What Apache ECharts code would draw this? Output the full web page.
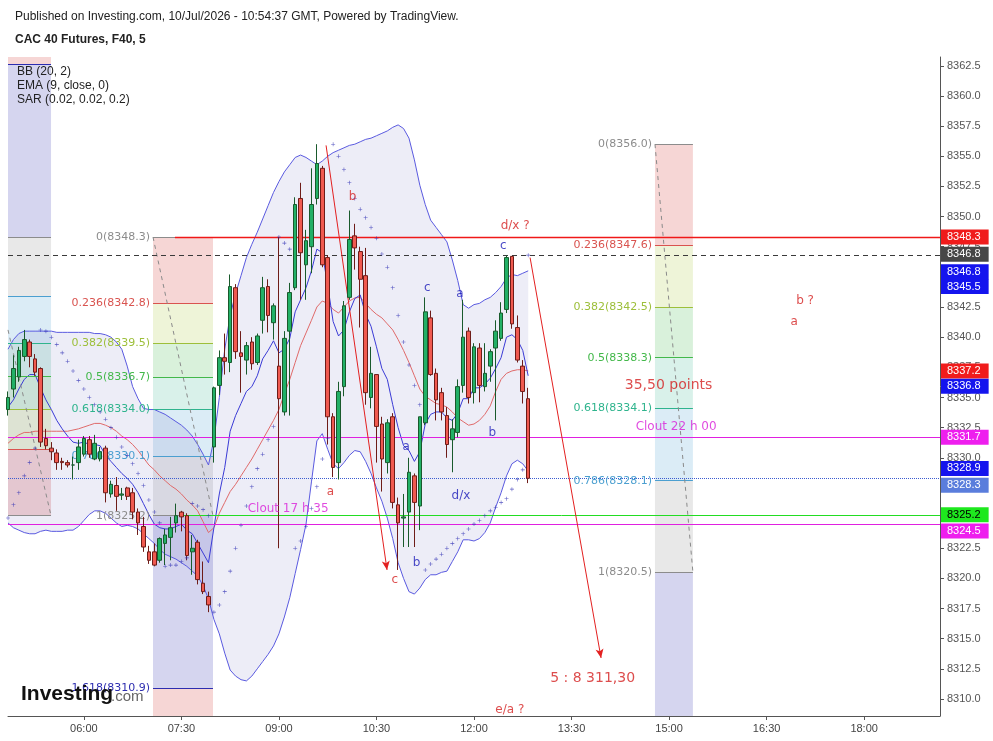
<!DOCTYPE html>
<html><head><meta charset="utf-8">
<script src="https://cdn.jsdelivr.net/npm/echarts@6/dist/echarts.min.js"></script>
<style>html,body{margin:0;padding:0;background:#fff}#c{width:993px;height:741px}</style>
</head><body><div id="c"></div>
<script>
// ---------- data ----------
const slotStart = '04:50';
const slotCount = 173;
const timeTicks = ['06:00','07:30','09:00','10:30','12:00','13:30','15:00','16:30','18:00'];
const priceTicks = [8310,8312.5,8315,8317.5,8320,8322.5,8325,8327.5,8330,8332.5,8335,8337.5,8340,8342.5,8345,8347.5,8350,8352.5,8355,8357.5,8360,8362.5];

const open = [8334.0,8335.7,8336.7,8338.4,8339.6,8338.2,8337.4,8331.6,8330.8,8330.4,
8329.7,8329.6,8329.4,8329.6,8330.3,8331.5,8329.9,8329.9,8330.8,8327.0,
8327.7,8326.9,8327.5,8327.1,8325.5,8324.3,8322.2,8322.2,8321.5,8322.9,
8323.4,8324.6,8325.5,8325.2,8322.2,8323.0,8319.6,8318.5,8330.9,8336.0,
8338.3,8337.9,8344.1,8338.7,8338.1,8339.6,8337.9,8341.4,8344.2,8341.2,
8337.6,8333.8,8340.5,8344.1,8351.5,8346.0,8347.5,8351.5,8354.0,8346.6,
8333.4,8329.6,8335.9,8343.3,8348.4,8347.1,8345.1,8335.0,8336.9,8332.8,
8329.6,8333.4,8326.1,8325.0,8325.5,8328.5,8326.0,8332.9,8341.6,8337.0,
8335.4,8333.5,8331.5,8332.1,8336.0,8340.5,8335.4,8339.1,8335.9,8337.6,
8339.1,8339.9,8342.3,8346.7,8340.8,8337.6,8334.9];
const high = [8335.5,8338.5,8339.2,8340.6,8339.8,8338.6,8337.5,8332.4,8331.3,8330.7,
8330.0,8329.8,8330.1,8331.5,8331.8,8331.8,8331.9,8330.9,8331.0,8328.1,
8328.4,8327.5,8327.6,8327.5,8325.8,8325.1,8322.7,8322.9,8323.4,8324.1,
8325.1,8326.2,8325.6,8325.4,8323.6,8323.2,8321.4,8318.9,8335.9,8338.9,
8340.3,8345.2,8344.4,8340.5,8339.6,8340.0,8340.3,8345.0,8344.8,8342.8,
8348.3,8340.5,8344.5,8351.6,8352.8,8348.9,8354.0,8356.0,8354.2,8346.8,
8333.7,8336.3,8343.0,8350.5,8349.4,8347.5,8347.4,8339.2,8336.9,8333.4,
8333.2,8333.7,8326.7,8327.0,8330.0,8328.7,8333.4,8343.3,8342.2,8337.4,
8335.8,8334.2,8333.2,8336.5,8343.1,8340.8,8339.5,8339.5,8339.5,8339.0,
8341.4,8342.9,8346.8,8346.7,8341.8,8338.1,8335.8];
const low = [8333.5,8335.0,8336.3,8338.0,8337.5,8336.8,8330.9,8330.7,8329.8,8329.0,
8329.0,8329.2,8328.2,8329.0,8330.1,8330.0,8329.8,8329.7,8326.3,8326.7,
8325.6,8326.5,8326.5,8324.9,8323.6,8322.2,8321.2,8321.0,8321.3,8321.1,
8321.5,8323.8,8323.9,8321.5,8320.3,8319.5,8318.7,8317.2,8329.6,8335.2,
8336.9,8337.1,8338.2,8335.4,8336.9,8337.3,8337.7,8340.3,8340.4,8339.8,
8322.5,8333.5,8333.5,8343.9,8343.1,8343.1,8345.3,8351.0,8345.8,8331.1,
8328.4,8328.2,8335.1,8343.1,8345.6,8340.8,8334.4,8334.1,8329.6,8327.2,
8328.7,8325.8,8320.7,8322.6,8322.6,8322.6,8324.0,8332.7,8336.8,8333.1,
8333.1,8330.0,8328.8,8331.7,8335.4,8334.5,8334.5,8334.6,8335.5,8336.3,
8333.1,8339.7,8342.0,8340.7,8337.9,8334.5,8327.9];
const close = [8335.0,8337.4,8338.9,8339.8,8338.4,8337.1,8331.3,8331.0,8330.5,8329.6,
8329.6,8329.4,8329.4,8330.9,8331.6,8330.3,8331.2,8330.5,8327.1,8327.8,
8326.8,8327.0,8326.8,8325.5,8324.6,8322.6,8321.5,8321.1,8323.3,8323.6,
8324.2,8325.2,8325.1,8321.9,8322.5,8319.9,8318.9,8317.8,8335.8,8338.3,
8338.0,8344.2,8338.8,8338.4,8339.3,8337.8,8340.1,8344.1,8341.8,8342.6,
8334.9,8339.9,8343.7,8351.0,8347.0,8348.0,8351.0,8354.4,8346.0,8333.4,
8329.2,8335.5,8342.6,8348.1,8347.4,8344.8,8335.4,8337.0,8332.6,8329.9,
8332.9,8326.3,8324.6,8325.1,8328.8,8326.3,8333.4,8342.1,8336.9,8334.8,
8333.8,8331.1,8332.4,8335.9,8340.0,8335.0,8339.2,8336.0,8337.0,8338.8,
8340.5,8342.0,8346.6,8341.1,8338.1,8335.5,8328.3];

const bbUpper = [8339.0,8339.8,8340.3,8340.5,8340.5,8340.5,8340.5,8340.5,8340.5,8340.4,
8340.4,8340.4,8340.4,8340.4,8340.4,8340.4,8340.3,8340.3,8340.2,8340.0,
8339.6,8339.0,8337.6,8335.9,8334.9,8334.1,8334.0,8334.0,8333.8,8333.6,
8333.3,8333.0,8332.7,8332.3,8331.8,8331.1,8330.3,8329.4,8331.5,8335.0,
8339.0,8341.8,8343.6,8345.1,8346.6,8347.7,8348.7,8349.8,8350.9,8352.0,
8352.9,8353.7,8354.3,8354.9,8355.1,8354.9,8354.6,8354.3,8354.6,8355.0,
8355.3,8355.5,8355.7,8355.9,8356.0,8356.2,8356.4,8356.5,8356.7,8356.9,
8357.1,8357.4,8357.6,8357.3,8356.5,8354.7,8352.6,8351.0,8349.7,8349.1,
8348.5,8347.9,8346.4,8344.7,8342.7,8342.4,8342.7,8342.8,8343.1,8343.3,
8343.7,8344.2,8344.9,8345.2,8345.1,8345.3,8345.5];
const bbBasis = [8331.2,8331.6,8331.9,8332.1,8332.1,8332.2,8332.2,8332.2,8332.2,8332.2,
8332.2,8332.2,8332.3,8332.4,8332.55,8332.7,8332.85,8332.85,8332.7,8332.5,
8332.2,8331.8,8331.5,8331.1,8330.6,8330.0,8329.4,8329.0,8328.5,8328.1,
8327.7,8327.4,8327.0,8326.5,8326.1,8325.6,8324.7,8323.8,8324.2,8325.4,
8326.3,8327.2,8327.8,8328.5,8329.2,8329.9,8330.7,8331.5,8332.3,8333.1,
8334.0,8335.3,8336.5,8337.9,8339.3,8340.35,8341.4,8342.5,8343.0,8342.8,
8342.3,8342.0,8342.5,8343.0,8343.25,8343.3,8342.8,8342.3,8341.9,8341.6,
8341.1,8340.6,8339.8,8338.9,8337.9,8336.8,8335.7,8335.1,8334.8,8334.5,
8334.4,8334.2,8333.8,8333.3,8333.0,8332.7,8332.8,8333.1,8333.6,8334.3,
8335.5,8336.5,8337.0,8337.2,8337.3,8337.3,8337.2];
const bbLower = [8324.6,8324.2,8324.0,8323.8,8323.7,8323.7,8323.9,8324.0,8323.9,8323.9,
8323.9,8324.0,8324.0,8324.3,8324.8,8325.3,8325.6,8325.6,8325.4,8325.0,
8324.6,8324.3,8324.4,8324.3,8324.1,8323.7,8323.3,8322.9,8322.4,8322.0,
8321.8,8321.6,8321.3,8321.0,8320.6,8320.2,8319.4,8318.3,8316.6,8315.4,
8313.8,8312.4,8311.9,8311.6,8311.5,8311.9,8312.5,8313.1,8313.7,8314.4,
8315.4,8316.8,8318.4,8320.4,8322.4,8324.5,8328.0,8331.4,8332.0,8330.7,
8329.5,8329.1,8329.6,8330.2,8330.6,8330.5,8329.7,8328.7,8327.5,8326.4,
8325.0,8323.3,8321.3,8320.0,8318.9,8318.7,8319.2,8319.9,8320.3,8320.3,
8320.5,8320.6,8321.4,8322.2,8323.2,8323.2,8323.1,8323.3,8323.8,8324.6,
8325.9,8327.1,8328.5,8329.5,8329.8,8329.5,8328.9];
const ema9 = [8334.2,8334.8,8335.7,8336.5,8336.9,8336.9,8335.8,8334.8,8334.0,8333.1,
8332.4,8331.8,8331.3,8331.2,8331.3,8331.1,8331.1,8331.0,8330.2,8329.7,
8329.2,8328.7,8328.3,8327.8,8327.1,8326.2,8325.3,8324.5,8324.2,8324.1,
8324.1,8324.3,8324.5,8324.0,8323.7,8322.9,8322.1,8321.3,8324.2,8327.0,
8329.2,8332.2,8333.5,8334.5,8335.5,8335.9,8336.8,8338.2,8338.9,8339.7,
8338.7,8339.0,8339.9,8342.1,8343.1,8344.1,8345.5,8347.3,8347.0,8344.3,
8341.3,8340.1,8340.6,8342.1,8343.2,8343.5,8341.9,8340.9,8339.2,8337.4,
8336.5,8334.4,8332.5,8331.0,8330.6,8329.7,8330.5,8332.8,8333.6,8333.8,
8333.8,8333.3,8333.1,8333.7,8334.9,8334.9,8335.8,8335.8,8336.1,8336.6,
8337.4,8338.3,8340.0,8340.2,8339.8,8338.9,8336.8];
const sar = [8325.0,8326.1,8327.1,8328.5,8329.6,8330.8,8340.6,8340.5,8340.0,8339.4,
8338.7,8338.0,8337.2,8336.4,8335.7,8335.0,8334.4,8333.8,8333.2,8332.5,
8331.7,8330.9,8330.2,8329.5,8328.7,8327.7,8326.5,8325.5,8324.6,8321.0,
8321.1,8321.1,8321.4,8321.7,8326.2,8326.0,8325.7,8325.2,8317.2,8317.8,
8318.9,8320.6,8322.5,8324.4,8326.0,8327.6,8329.1,8330.3,8331.5,8332.6,
8348.3,8347.8,8347.3,8322.5,8323.1,8324.3,8325.8,8327.6,8329.9,8331.6,
8356.0,8355.0,8353.9,8352.8,8351.5,8350.6,8349.9,8349.1,8348.2,8346.9,
8345.8,8344.1,8341.8,8339.6,8337.7,8336.0,8334.4,8320.7,8321.2,8321.6,
8322.0,8322.5,8322.9,8323.3,8323.7,8324.1,8324.5,8324.8,8325.2,8325.6,
8325.9,8326.3,8326.6,8327.4,8328.2,8329.0,8346.8];

// fibonacci tools (ratios and the price labels)
const fibRatios = ['0','0.236','0.382','0.5','0.618','0.786','1','1.618','2.618'];
const fibLeftPrices  = [8325.2,8330.7,8334.0,8336.8,8339.5,8343.4,8348.3,8362.6];
const fibMidPrices   = [8348.3,8342.8,8339.5,8336.7,8334.0,8330.1,8325.2,8310.9];
const fibRightPrices = [8356.0,8347.6,8342.5,8338.3,8334.1,8328.1,8320.5];

// drawn horizontal levels
const levelRed = 8348.3, levelDashed = 8346.8, levelClout22 = 8331.7, lastPrice = 8328.3, levelGreen = 8325.2, levelClout17 = 8324.5;

// text annotations [text, slot, price]
const redNotes = [['b',63.6,8351.6],['a',59.5,8327.2],['c',71.4,8319.9],['d/x ?',93.6,8349.2],['e/a ?',92.6,8309.1],['b ?',147.1,8343.0],['a',145.1,8341.3]];
const bigRedNotes = [['35,50 points',121.9,8336.0],['5 : 8 311,30',107.9,8311.7]];
const blueNotes = [['c',77.4,8344.05],['a',83.4,8343.6],['c',91.4,8347.6],['a',73.5,8330.9],['b',89.4,8332.1],['d/x',83.6,8326.8],['b',75.4,8321.25]];
const magentaNotes = [['Clout 17 h 35',51.7,8325.8],['Clout 22 h 00',123.3,8332.55]];
// wave arrows [slot, price] -> [slot, price]
const waveArrows = [[[58.7,8355.9],[69.95,8320.7]],[[96.35,8346.6],[109.45,8313.4]]];

// ---------- build ----------
const yMin = 8308.59, yMax = 8363.23, xMaxSlot = slotCount - 1;
const times = [];
(function(){const p=slotStart.split(':');let m=+p[0]*60+ +p[1];for(let i=0;i<slotCount;i++,m+=5){times.push(String(Math.floor(m/60)).padStart(2,'0')+':'+String(m%60).padStart(2,'0'));}})();
const candles = open.map((o,i)=>[o, close[i], low[i], high[i]]);
const bandWidth = bbUpper.map((u,i)=>+(u-bbLower[i]).toFixed(2));

const fibLineColors = ['#8c8c8c','#d9534f','#9dbf3a','#43b84a','#2fb48d','#4b9fd0','#8c8c8c','#2d2db0','#d9534f'];
const fibFillColors = ['rgba(217,83,79,0.24)','rgba(168,200,60,0.2)','rgba(67,184,74,0.2)','rgba(47,180,141,0.18)','rgba(75,159,208,0.2)','rgba(140,140,140,0.2)','rgba(45,45,176,0.2)','rgba(217,83,79,0.24)'];
const fibTools = [
  {prices: fibLeftPrices, x0: 0, x1: 7.94, labels: false, diag: [[0,8340.6],[7.94,8325.2]]},
  {prices: fibMidPrices, x0: 26.76, x1: 37.83, labels: true, diag: [[26.76,8348.3],[37.83,8325.2]]},
  {prices: fibRightPrices, x0: 119.4, x1: 126.4, labels: true, diag: [[119.4,8356.0],[126.4,8320.5]]}
];
const clampY = v => Math.max(yMin, Math.min(yMax, v));
const fibAreas = [], fibLines = [];
fibTools.forEach(f=>{
  const up = f.prices[1] > f.prices[0];
  f.prices.forEach((p,k)=>{
    const q = k+1 < f.prices.length ? f.prices[k+1] : (up ? yMax : yMin);
    const a = clampY(p), b = clampY(q);
    if (a !== b) fibAreas.push([{coord:[f.x0,a], itemStyle:{color:fibFillColors[k]}},{coord:[f.x1,b]}]);
    if (p > yMin && p < yMax) {
      fibLines.push([{coord:[f.x0,p], lineStyle:{color:fibLineColors[k], width:1, type:'solid'},
        label:{show:f.labels, position:'start', distance:3, formatter: fibRatios[k]+'('+p.toFixed(1)+')', color:fibLineColors[k], fontSize:11, fontFamily:'DejaVu Sans'}},{coord:[f.x1,p]}]);
    }
  });
  fibLines.push([{coord:f.diag[0], lineStyle:{color:'#8a8a8a', width:1, type:[4,4]}},{coord:f.diag[1]}]);
});

const hLines = [
  [levelRed, 30.8, '#f01818', 'solid', 1.3],
  [levelDashed, 0, '#3a3a3a', [5,4], 1],
  [levelClout22, 0, '#e020e0', 'solid', 1],
  [lastPrice, 0, '#3b5bd0', 'dotted', 1],
  [levelGreen, 32.3, '#22dd22', 'solid', 1],
  [levelClout17, 0, '#e020e0', 'solid', 1]
].map(h=>[{coord:[h[1],h[0]], lineStyle:{color:h[2], width:h[4], type:h[3]}},{coord:[xMaxSlot,h[0]]}]);

const last = a => a[a.length-1];
const tagDefs = [
  [levelRed, '#f01c1c', '#fff', 0],
  [levelDashed, '#474747', '#fff', -1],
  [last(sar), '#1414ee', '#fff', 16.5],
  [last(bbUpper), '#1414ee', '#fff', 15.7],
  [last(bbBasis), '#f01c1c', '#fff', 0],
  [last(ema9), '#1414ee', '#fff', 10.6],
  [levelClout22, '#ee1eee', '#fff', 0],
  [last(bbLower), '#1414ee', '#fff', -2.6],
  [last(close), '#5a7ddc', '#fff', 6.9],
  [levelGreen, '#1ee81e', '#000', -1],
  [levelClout17, '#ee1eee', '#fff', 7]
];
const tagLines = tagDefs.map(t=>[{coord:[xMaxSlot-1,t[0]], lineStyle:{color:'rgba(0,0,0,0)', width:1},
  label:{show:true, position:'end', distance:1, formatter:t[0].toFixed(1), color:t[2], backgroundColor:t[1], padding:[2,8,2,6], fontSize:11, fontFamily:'Liberation Sans', offset:[0,t[3]]}},{coord:[xMaxSlot,t[0]]}]);

const arrows = waveArrows.map(a=>[{coord:a[0]},{coord:a[1]}]);

const noteSeries = (items, color, size) => ({
  type:'scatter', xAxisIndex:1, yAxisIndex:0, symbolSize:1, itemStyle:{color:'rgba(0,0,0,0)'}, silent:true, z:9, clip:false,
  data: items.map(n=>({value:[n[1],n[2]], name:n[0]})),
  label:{show:true, position:'inside', formatter:p=>p.name, color:color, fontSize:size, fontFamily:'DejaVu Sans'}
});

const tickShow = (i, v) => timeTicks.indexOf(v) >= 0;

const option = {
  animation:false,
  backgroundColor:'#fff',
  grid:{left:8, right:53, top:57, bottom:25, containLabel:false},
  xAxis:[
    {type:'category', data:times, boundaryGap:false,
     axisLine:{onZero:false, lineStyle:{color:'#555'}},
     axisTick:{interval:tickShow, length:4, lineStyle:{color:'#555'}},
     axisLabel:{interval:tickShow, color:'#444', fontSize:11, fontFamily:'Liberation Sans', margin:7},
     splitLine:{show:false}},
    {type:'value', min:0, max:xMaxSlot, show:false, axisLine:{onZero:false}}
  ],
  yAxis:{type:'value', position:'right', min:yMin, max:yMax,
    splitLine:{show:false},
    axisLine:{show:true, onZero:false, lineStyle:{color:'#555'}},
    axisTick:{show:true, length:4, customValues:priceTicks, lineStyle:{color:'#555'}},
    axisLabel:{customValues:priceTicks, formatter:v=>v.toFixed(1), color:'#555', fontSize:11, fontFamily:'Liberation Sans', margin:7}},
  graphic:[
    {type:'text', x:15, y:17, style:{text:'Published on Investing.com, 10/Jul/2026 - 10:54:37 GMT, Powered by TradingView.', font:'12px "Liberation Sans"', fill:'#222', verticalAlign:'middle'}},
    {type:'text', x:15, y:40, style:{text:'CAC 40 Futures, F40, 5', font:'bold 12px "Liberation Sans"', fill:'#222', verticalAlign:'middle'}},
    {type:'text', x:17, y:72, z:20, style:{text:'BB (20, 2)', font:'12px "Liberation Sans"', fill:'#222', verticalAlign:'middle'}},
    {type:'text', x:17, y:86, z:20, style:{text:'EMA (9, close, 0)', font:'12px "Liberation Sans"', fill:'#222', verticalAlign:'middle'}},
    {type:'text', x:17, y:100, z:20, style:{text:'SAR (0.02, 0.02, 0.2)', font:'12px "Liberation Sans"', fill:'#222', verticalAlign:'middle'}},
    {type:'text', x:21, y:694, z:20, style:{text:'Investing', font:'bold 21px "Liberation Sans"', fill:'#111', verticalAlign:'middle'}},
    {type:'text', x:111, y:697, z:20, style:{text:'.com', font:'15px "Liberation Sans"', fill:'#666', verticalAlign:'middle'}}
  ],
  series:[
    {type:'line', name:'fib', xAxisIndex:1, yAxisIndex:0, data:[], z:1, silent:true,
     markArea:{silent:true, data:fibAreas},
     markLine:{silent:true, symbol:['none','none'], label:{show:false}, data:fibLines}},
    {type:'line', name:'bbBase', data:bbLower, stack:'bb', symbol:'none', lineStyle:{opacity:0}, silent:true, z:2},
    {type:'line', name:'bbFill', data:bandWidth, stack:'bb', symbol:'none', lineStyle:{opacity:0}, areaStyle:{color:'rgba(60,60,170,0.13)'}, silent:true, z:2},
    {type:'line', name:'BB upper', data:bbUpper, symbol:'none', lineStyle:{color:'#5a5ae0', width:1}, silent:true, z:3},
    {type:'line', name:'BB lower', data:bbLower, symbol:'none', lineStyle:{color:'#5a5ae0', width:1}, silent:true, z:3},
    {type:'line', name:'BB basis', data:bbBasis, symbol:'none', lineStyle:{color:'#e06a6a', width:1}, silent:true, z:3},
    {type:'line', name:'EMA', data:ema9, symbol:'none', lineStyle:{color:'#3b3bd6', width:1}, silent:true, z:3},
    {type:'line', name:'levels', xAxisIndex:1, yAxisIndex:0, data:[], z:4, silent:true,
     markLine:{silent:true, symbol:['none','none'], label:{show:false}, data:hLines}},
    {type:'candlestick', name:'F40', data:candles, barWidth:'76%', z:5,
     itemStyle:{color:'#22b066', color0:'#f05a50', borderColor:'#195a2c', borderColor0:'#6e1c18', borderWidth:1}},
    {type:'scatter', name:'SAR', data:sar, symbol:'path://M3,0H4V3H7V4H4V7H3V4H0V3H3Z', symbolSize:4, itemStyle:{color:'#3030b4'}, silent:true, z:6},
    {type:'line', name:'arrows', xAxisIndex:1, yAxisIndex:0, data:[], z:7, silent:true,
     markLine:{silent:true, symbol:['none','arrow'], symbolSize:[6,9], label:{show:false}, lineStyle:{color:'#e32020', width:1, type:'solid'}, data:arrows}},
    {type:'line', name:'tags', xAxisIndex:1, yAxisIndex:0, data:[], z:10, clip:false, silent:true,
     markLine:{silent:true, symbol:['none','none'], label:{show:true}, data:tagLines}},
    noteSeries(redNotes, '#d42020', 12),
    noteSeries(bigRedNotes, '#d42020', 14),
    noteSeries(blueNotes, '#1a1ab8', 12),
    noteSeries(magentaNotes, '#d81ed8', 12)
  ]
};
const chart = echarts.init(document.getElementById('c'));
chart.setOption(option);
</script></body></html>
